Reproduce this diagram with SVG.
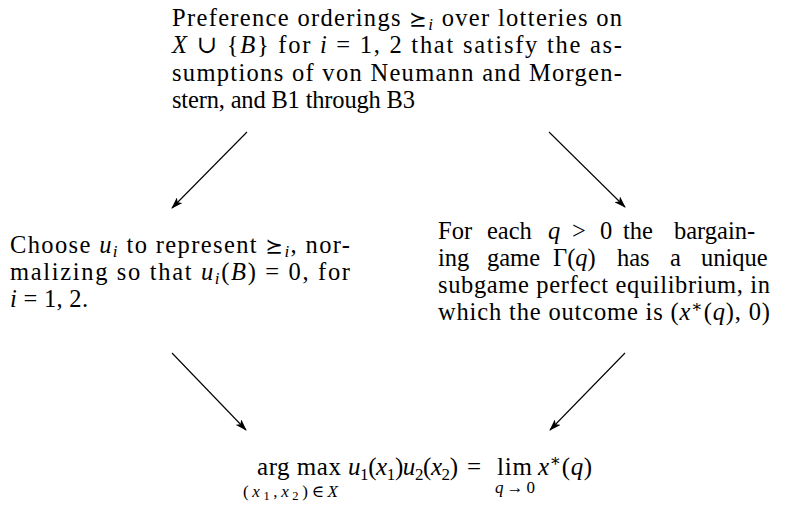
<svg xmlns="http://www.w3.org/2000/svg" width="786" height="508" viewBox="0 0 786 508">
<style>
text{font-family:"Liberation Serif","DejaVu Serif",serif;font-size:24.5px;fill:#000}
.m{font-style:italic}
.s{font-size:17px}
.ss{font-size:12.5px}
.f{font-size:25px}
.sym{font-family:"DejaVu Serif","DejaVu Sans",serif;font-size:21px}
.c{stroke:#000;stroke-width:1.1;fill:none}
</style>
<defs>
<marker id="ah" viewBox="0 0 12 8" refX="11" refY="4" markerWidth="12" markerHeight="8" markerUnits="userSpaceOnUse" orient="auto">
<path d="M0,0 L12,4 L0,8 L3,4 z" fill="#000"/>
</marker>
</defs>
<g id="top">
<text x="172" y="26" textLength="450" lengthAdjust="spacing">Preference orderings <tspan class="sym">⪰</tspan><tspan class="m s" dy="4">i</tspan><tspan dy="-4"> over lotteries on</tspan></text>
<text x="172" y="53" textLength="450" lengthAdjust="spacing"><tspan class="m">X</tspan> ∪ {<tspan class="m">B</tspan>} for <tspan class="m">i</tspan> = 1, 2 that satisfy the as-</text>
<text x="172" y="81" textLength="450" lengthAdjust="spacing">sumptions of von Neumann and Morgen-</text>
<text x="172" y="108" textLength="243" lengthAdjust="spacing">stern, and B1 through B3</text>
</g>
<g id="left">
<text x="10" y="253" textLength="340" lengthAdjust="spacing">Choose <tspan class="m">u</tspan><tspan class="m s" dy="4">i</tspan><tspan dy="-4"> to represent </tspan><tspan class="sym">⪰</tspan><tspan class="m s" dy="4">i</tspan><tspan dy="-4">, nor-</tspan></text>
<text x="10" y="280" textLength="340" lengthAdjust="spacing">malizing so that <tspan class="m">u</tspan><tspan class="m s" dy="4">i</tspan><tspan dy="-4">(</tspan><tspan class="m">B</tspan>) = 0, for</text>
<text x="10" y="307" textLength="78" lengthAdjust="spacing"><tspan class="m">i</tspan> = 1, 2.</text>
</g>
<g id="right">
<text y="239"><tspan x="438">For</tspan><tspan x="487">each</tspan><tspan x="548" class="m">q</tspan><tspan x="572">&gt;</tspan><tspan x="600">0</tspan><tspan x="623">the</tspan><tspan x="674">bargain-</tspan></text>
<text y="266"><tspan x="438">ing</tspan><tspan x="487">game</tspan><tspan x="553">Γ(</tspan><tspan class="m">q</tspan><tspan>)</tspan><tspan x="617">has</tspan><tspan x="670">a</tspan><tspan x="701">unique</tspan></text>
<text x="438" y="293" textLength="332" lengthAdjust="spacing">subgame perfect equilibrium, in</text>
<text x="438" y="320" textLength="332" lengthAdjust="spacing">which the outcome is (<tspan class="m">x</tspan><tspan class="s" dy="-8">∗</tspan><tspan dy="8">(</tspan><tspan class="m">q</tspan>), 0)</text>
</g>
<g id="result">
<text x="257" y="475" class="f" textLength="84" lengthAdjust="spacing">arg max</text>
<text x="243" y="497" class="s" textLength="95" lengthAdjust="spacing">(<tspan class="m">x</tspan><tspan class="ss" dy="3">1</tspan><tspan dy="-3">,</tspan><tspan class="m">x</tspan><tspan class="ss" dy="3">2</tspan><tspan dy="-3">)∈</tspan><tspan class="m">X</tspan></text>
<text x="348" y="475" class="f" textLength="110" lengthAdjust="spacing"><tspan class="m">u</tspan><tspan class="s" dy="5">1</tspan><tspan dy="-5">(</tspan><tspan class="m">x</tspan><tspan class="s" dy="5">1</tspan><tspan dy="-5">)</tspan><tspan class="m">u</tspan><tspan class="s" dy="5">2</tspan><tspan dy="-5">(</tspan><tspan class="m">x</tspan><tspan class="s" dy="5">2</tspan><tspan dy="-5">)</tspan></text>
<text x="467" y="475" class="f">=</text>
<text x="497" y="475" class="f" textLength="35" lengthAdjust="spacing">lim</text>
<text x="495" y="493" class="s" textLength="40" lengthAdjust="spacing"><tspan class="m">q</tspan>→0</text>
<text x="538" y="475" class="f" textLength="54" lengthAdjust="spacing"><tspan class="m">x</tspan><tspan class="s" dy="-9">∗</tspan><tspan dy="9">(</tspan><tspan class="m">q</tspan>)</text>
</g>
<g id="connectors">
<line class="c" x1="247" y1="132" x2="172" y2="208" marker-end="url(#ah)"/>
<line class="c" x1="549" y1="132" x2="625" y2="207" marker-end="url(#ah)"/>
<line class="c" x1="172" y1="353" x2="246" y2="430" marker-end="url(#ah)"/>
<line class="c" x1="625" y1="353" x2="550" y2="430" marker-end="url(#ah)"/>
</g>
</svg>
